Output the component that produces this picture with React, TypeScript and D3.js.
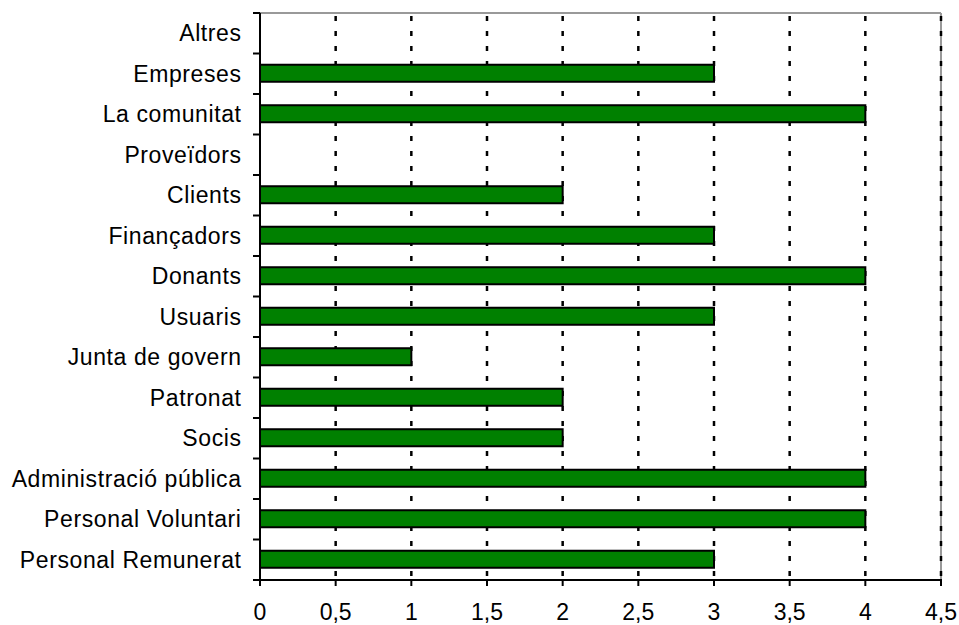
import React from "react";
import * as d3 from "d3";

const categories = [
  "Altres",
  "Empreses",
  "La comunitat",
  "Proveïdors",
  "Clients",
  "Finançadors",
  "Donants",
  "Usuaris",
  "Junta de govern",
  "Patronat",
  "Socis",
  "Administració pública",
  "Personal Voluntari",
  "Personal Remunerat",
];
const values = [0, 3, 4, 0, 2, 3, 4, 3, 1, 2, 2, 4, 4, 3];
const xTicks = [0, 0.5, 1, 1.5, 2, 2.5, 3, 3.5, 4, 4.5];

const W = 959;
const H = 625;
const left = 260;
const right = 941;
const top = 13;
const bottom = 580;
const font = "'Liberation Sans', Arial, sans-serif";
const fs = 23;

export default function App() {
  const x = d3.scaleLinear().domain([0, 4.5]).range([left, right]);
  const y = d3.scaleBand<string>().domain(categories).range([top, bottom]).padding(0);
  const bw = y.bandwidth();
  const barH = bw * 0.42;
  const fmt = (v: number) => String(v).replace(".", ",");
  const boundaries = d3.range(categories.length + 1).map((i) => top + i * y.step());

  return (
    <svg
      width={W}
      height={H}
      style={{ position: "absolute", left: 0, top: 0, background: "#fff" }}
      fontFamily={font}
    >
      <rect x={0} y={0} width={W} height={H} fill="#fff" />
      {/* plot border gray */}
      <line x1={left} x2={right} y1={top} y2={top} stroke="#999" strokeWidth={2} />
      <line x1={right} x2={right} y1={top} y2={bottom} stroke="#999" strokeWidth={2} />
      {/* gridlines */}
      {xTicks
        .filter((t) => t > 0)
        .map((t) => (
          <line
            key={"g" + t}
            x1={x(t)}
            x2={x(t)}
            y1={top + 1}
            y2={bottom}
            stroke="#000"
            strokeWidth={2.5}
            strokeDasharray="5,10"
            strokeDashoffset={-2}
          />
        ))}
      {/* bars */}
      {categories.map((c, i) =>
        values[i] > 0 ? (
          <rect
            key={"b" + c}
            x={x(0)}
            y={(y(c) as number) + (bw - barH) / 2 - 0.5}
            width={x(values[i]) - x(0)}
            height={barH}
            fill="#008000"
            stroke="#000"
            strokeWidth={2}
          />
        ) : null
      )}
      {/* axes */}
      <line x1={left} x2={left} y1={top} y2={bottom + 1} stroke="#000" strokeWidth={2} />
      <line x1={left - 1} x2={right + 1} y1={bottom} y2={bottom} stroke="#000" strokeWidth={2} />
      {boundaries.map((b, i) => (
        <line key={"yt" + i} x1={left - 7} x2={left} y1={b} y2={b} stroke="#000" strokeWidth={2} />
      ))}
      {xTicks.map((t) => (
        <line key={"xt" + t} x1={x(t)} x2={x(t)} y1={bottom} y2={bottom + 6} stroke="#000" strokeWidth={2} />
      ))}
      {/* labels */}
      {xTicks.map((t) => (
        <text key={"xl" + t} x={x(t)} y={620} textAnchor="middle" fontSize={fs} fill="#000">
          {fmt(t)}
        </text>
      ))}
      {categories.map((c) => (
        <text
          key={"yl" + c}
          x={241.6}
          y={(y(c) as number) + bw / 2}
          dy="0.35em"
          textAnchor="end"
          fontSize={fs}
          letterSpacing={0.6}
          fill="#000"
        >
          {c}
        </text>
      ))}
    </svg>
  );
}
